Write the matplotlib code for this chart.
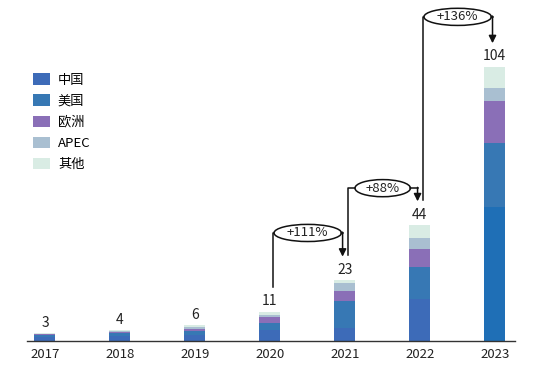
import matplotlib.pyplot as plt
from matplotlib.patches import Ellipse, Patch
import numpy as np

plt.rcParams['font.family'] = ['Noto Sans CJK SC', 'DejaVu Sans']

# dados
anos = ['2017', '2018', '2019', '2020', '2021', '2022', '2023']
totais = [3, 4, 6, 11, 23, 44, 104]
china = [1.4, 2.0, 2.2, 4, 5, 16, 51]
eua = [0.8, 1.0, 1.5, 3, 10, 12, 24]
europa = [0.4, 0.5, 1.0, 2, 4, 7, 16]
apec = [0.2, 0.3, 0.7, 1, 3, 4, 5]
outros = [0.2, 0.2, 0.6, 1, 1, 5, 8]
crescimento = ['+111%', '+88%', '+136%']

series = [('中国', china, '#3d6bb8'),
          ('美国', eua, '#3778b4'),
          ('欧洲', europa, '#8a6fb7'),
          ('APEC', apec, '#a9bfd1'),
          ('其他', outros, '#d9ece4')]

fig = plt.figure(figsize=(5.34, 3.69), dpi=100)
ax = fig.add_axes([27 / 534, 28 / 369, 488 / 534, 341 / 369])

x = np.arange(len(anos))
largura = 0.28
base = np.zeros(len(anos))
handles = []
for nome, valores, cor in series:
    cores = [cor] * len(anos)
    if nome == '中国':
        cores[-1] = '#1f6fb6'
    ax.bar(x, valores, largura, bottom=base, color=cores, edgecolor='none')
    base += np.array(valores)
    handles.append(Patch(facecolor=cor, edgecolor='none', label=nome))

for i, t in enumerate(totais):
    ax.text(x[i], t + 4, str(t), ha='center', va='center', fontsize=10, color='#222222')

# colchetes de crescimento
topos = [41, 58, 123]
for k, rotulo in enumerate(crescimento):
    i = 3 + k
    xe = x[i] + 0.04
    xd = x[i + 1] - 0.03
    yt = topos[k]
    xc = (xe + xd) / 2
    w = 0.9 if len(rotulo) > 4 else 0.74
    ax.plot([xe, xe, xc - w / 2], [totais[i] + 9.5, yt, yt], color='#111111', lw=1.1)
    ax.plot([xc + w / 2, xd], [yt, yt], color='#111111', lw=1.1)
    ax.add_patch(Ellipse((xc, yt), w, 6.5, facecolor='white', edgecolor='#111111', lw=1.1))
    ax.text(xc, yt, rotulo, ha='center', va='center', fontsize=9.5, color='#222222')
    ax.annotate('', xy=(xd, totais[i + 1] + 9), xytext=(xd, yt + 0.3),
                arrowprops=dict(arrowstyle='-|>', color='#111111', lw=1.1,
                                mutation_scale=11, shrinkA=0, shrinkB=0))

ax.set_xlim(-0.24, 6.27)
ax.set_ylim(0, 129.4)
ax.set_xticks(x)
ax.set_xticklabels(anos, fontsize=9.5, color='#222222')
ax.tick_params(axis='x', length=0, pad=5)
ax.set_yticks([])
for lado in ['top', 'right', 'left']:
    ax.spines[lado].set_visible(False)
ax.spines['bottom'].set_color('#333333')
ax.spines['bottom'].set_linewidth(1.0)

ax.legend(handles=handles, loc='upper left', bbox_to_anchor=(0.012, 0.785),
          frameon=False, fontsize=9.5, handlelength=1.3, handleheight=0.95,
          labelspacing=0.6, handletextpad=0.6, borderpad=0, borderaxespad=0)

plt.savefig('out.png', dpi=100)
plt.close()
